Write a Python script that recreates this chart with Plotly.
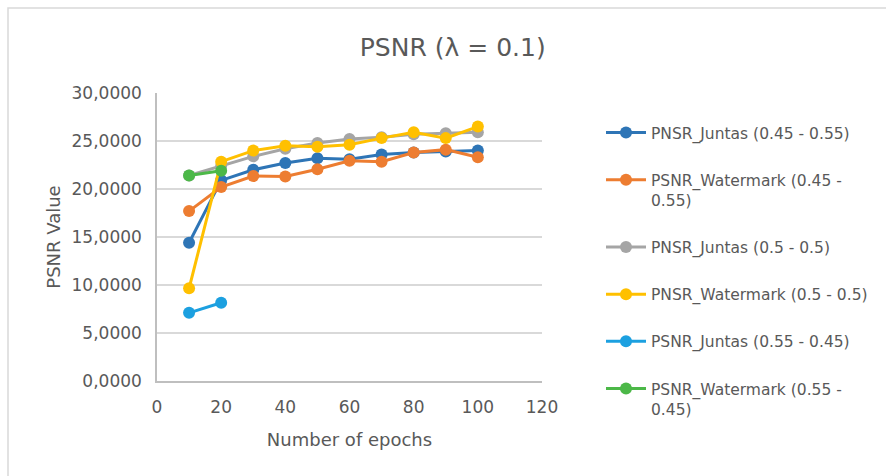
import plotly.graph_objects as go

epochs = [10, 20, 30, 40, 50, 60, 70, 80, 90, 100]
epochs_short = [10, 20]

juntas_045 = [14.4, 20.9, 22.0, 22.7, 23.2, 23.1, 23.6, 23.8, 23.9, 24.0]
watermark_045 = [17.7, 20.2, 21.35, 21.3, 22.05, 22.95, 22.85, 23.8, 24.1, 23.3]
juntas_05 = [21.4, 22.4, 23.4, 24.2, 24.8, 25.2, 25.4, 25.7, 25.8, 25.9]
watermark_05 = [9.65, 22.85, 24.0, 24.5, 24.4, 24.6, 25.3, 25.9, 25.3, 26.5]
juntas_055 = [7.1, 8.15]
watermark_055 = [21.4, 21.9]

names = [
    "PNSR_Juntas (0.45 - 0.55)",
    "PSNR_Watermark (0.45 -<br>0.55)",
    "PNSR_Juntas (0.5 - 0.5)",
    "PNSR_Watermark (0.5 - 0.5)",
    "PSNR_Juntas (0.55 - 0.45)",
    "PSNR_Watermark (0.55 -<br>0.45)",
]
colors = ["#2E75B6", "#ED7D31", "#A5A5A5", "#FFC000", "#1CA0E0", "#4CB848"]
xs = [epochs, epochs, epochs, epochs, epochs_short, epochs_short]
ys = [juntas_045, watermark_045, juntas_05, watermark_05, juntas_055, watermark_055]

fig = go.Figure()
for i in range(6):
    fig.add_trace(go.Scatter(
        x=xs[i], y=ys[i], name=names[i], mode="lines+markers",
        line=dict(color=colors[i], width=3),
        marker=dict(color=colors[i], size=12),
        legendgroup=str(i),
    ))

fontc = "#595959"
fam = "DejaVu Sans, sans-serif"
fig.update_layout(
    width=886, height=476,
    margin=dict(l=157, r=344, t=93, b=95),
    paper_bgcolor="white", plot_bgcolor="white",
    separators=", ",
    font=dict(family=fam, color=fontc, size=14),
    title=dict(text="PSNR (λ = 0.1)", x=0.511, xanchor="center", xref="container",
               y=1 - 47 / 476, yanchor="middle", yref="container",
               font=dict(size=25, color=fontc, family=fam)),
    showlegend=True,
    legend=dict(x=(601 - 157) / 385, xanchor="left", y=(381 - 116) / 288, yanchor="top",
                font=dict(size=15.5, color=fontc, family=fam),
                tracegroupgap=24, valign="top", itemwidth=40,
                maxheight=440,
                bgcolor="rgba(0,0,0,0)"),
    xaxis=dict(range=[0, 120], dtick=20, tick0=0, showgrid=False,
               showline=True, linecolor="#BFBFBF", linewidth=1.5,
               ticks="outside", ticklen=10, tickcolor="rgba(0,0,0,0)", zeroline=False,
               title=dict(text="Number of epochs", font=dict(size=18, color=fontc, family=fam), standoff=17),
               tickfont=dict(size=17, color=fontc, family=fam)),
    yaxis=dict(range=[0, 30], dtick=5, tick0=0, tickformat=".4f",
               showgrid=True, gridcolor="#D9D9D9", gridwidth=1.5,
               showline=True, linecolor="#BFBFBF", linewidth=1.5,
               ticks="outside", ticklen=10, tickcolor="rgba(0,0,0,0)", zeroline=False,
               title=dict(text="PSNR Value", font=dict(size=18, color=fontc, family=fam), standoff=6),
               tickfont=dict(size=17, color=fontc, family=fam)),
    shapes=[dict(type="rect", xref="paper", yref="paper",
                 x0=(8 - 157) / 385, x1=(900 - 157) / 385,
                 y0=(381 - 490) / 288, y1=(381 - 8) / 288,
                 line=dict(color="#D9D9D9", width=1.5), layer="below")],
)

fig.write_html("out.html")
